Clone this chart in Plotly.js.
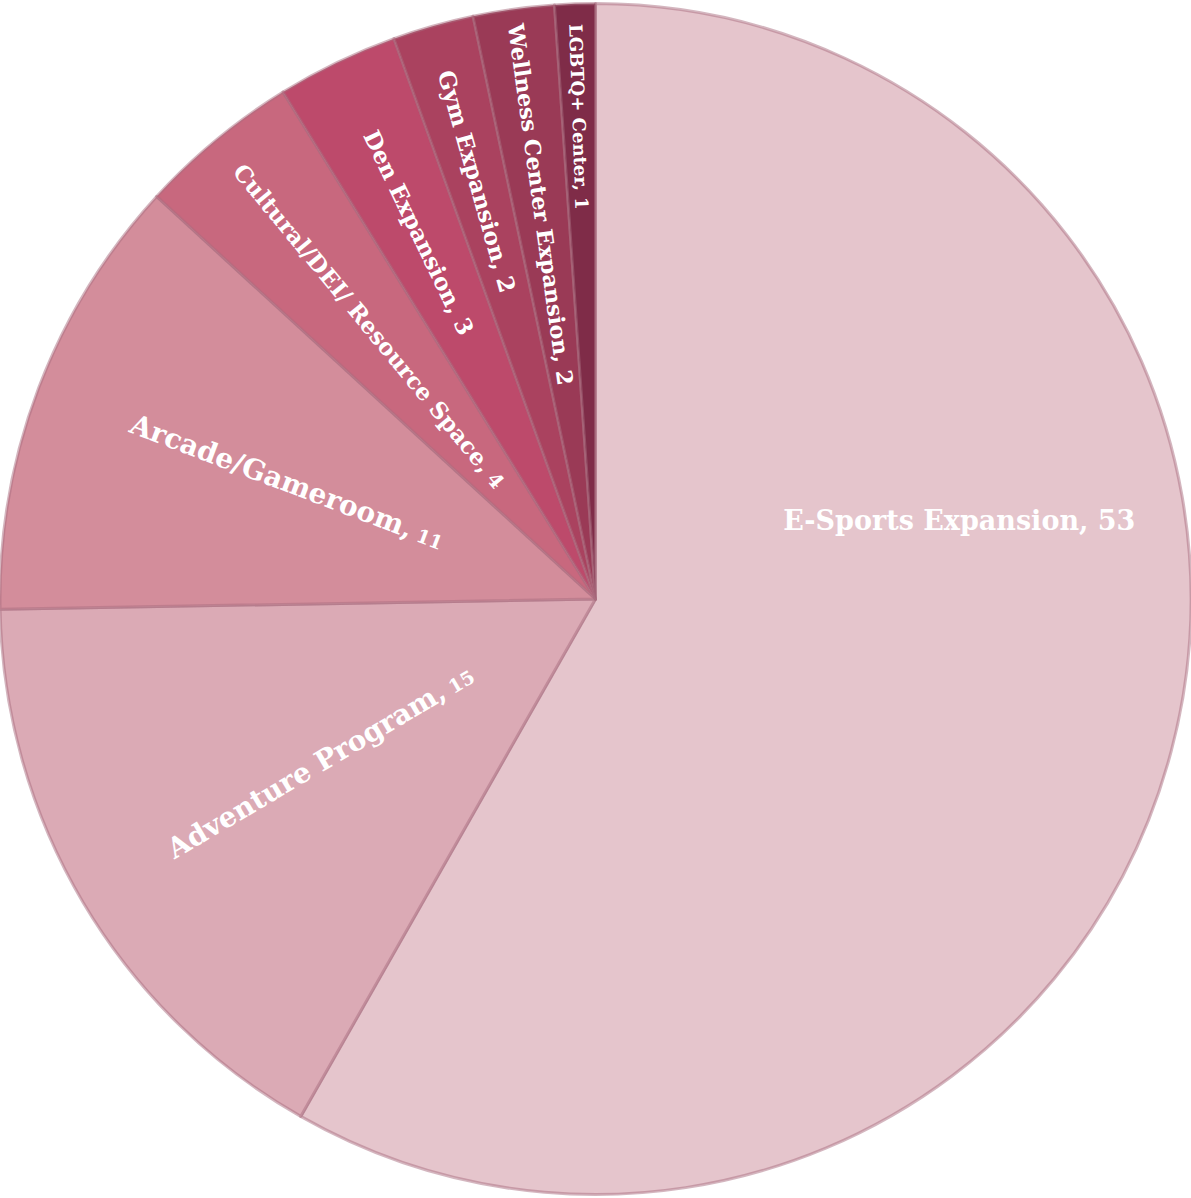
<!DOCTYPE html>
<html>
<head>
<meta charset="utf-8">
<script src="https://cdn.plot.ly/plotly-3.0.1.min.js"></script>
<style>html,body{margin:0;padding:0;background:#fff;}#chart{width:1191px;height:1198px;}</style>
</head>
<body>
<div id="chart"></div>
<script>
const categories = ["E-Sports Expansion","Adventure Program","Arcade/Gameroom","Cultural/DEI/ Resource Space","Den Expansion","Gym Expansion","Wellness Center Expansion","LGBTQ+ Center"];
const values = [53,15,11,4,3,2,2,1];
const colors = ["#E5C5CC","#DBAAB5","#D38D9B","#C8687E","#BD4A6B","#AA425F","#9A3A56","#7F2C48"];
const labelSizes = [27,28,28,23,23,23,22,18];
const valueSizes = [27,19,19,20,23,23,22,18];

const radialText = categories.map((c,i)=> i===0 ? "" :
  `${c},<span style="font-size:${valueSizes[i]}px"> %{value}</span>`);
const horizText = categories.map((c,i)=> i===0 ? "%{label}, %{value}" : "");

const common = {
  type: "pie",
  labels: categories,
  values: values,
  sort: false,
  direction: "clockwise",
  textposition: "inside",
  hoverinfo: "none",
  showlegend: false,
  domain: {x:[0,1], y:[0,1]}
};

const t1 = Object.assign({}, common, {
  rotation: 0,
  marker: {colors: colors, line: {color: "rgba(170,110,128,0.5)", width: 3}},
  texttemplate: radialText,
  insidetextorientation: "radial",
  insidetextfont: {family: "DejaVu Serif", color: "#ffffff", size: labelSizes, weight: "bold"}
});
const t2 = Object.assign({}, common, {
  rotation: -27,
  hole: 0.25,
  marker: {colors: colors.map(()=> "rgba(0,0,0,0)"), line: {width: 0}},
  texttemplate: horizText,
  insidetextorientation: "horizontal",
  insidetextfont: {family: "DejaVu Serif", color: "#ffffff", size: labelSizes, weight: "bold"}
});

Plotly.newPlot("chart", [t1, t2], {
  width: 1191, height: 1198,
  margin: {l:0, r:0, t:0, b:0},
  paper_bgcolor: "#ffffff",
  uniformtext: {mode: false}
}, {displayModeBar: false, staticPlot: true});
</script>
</body>
</html>
